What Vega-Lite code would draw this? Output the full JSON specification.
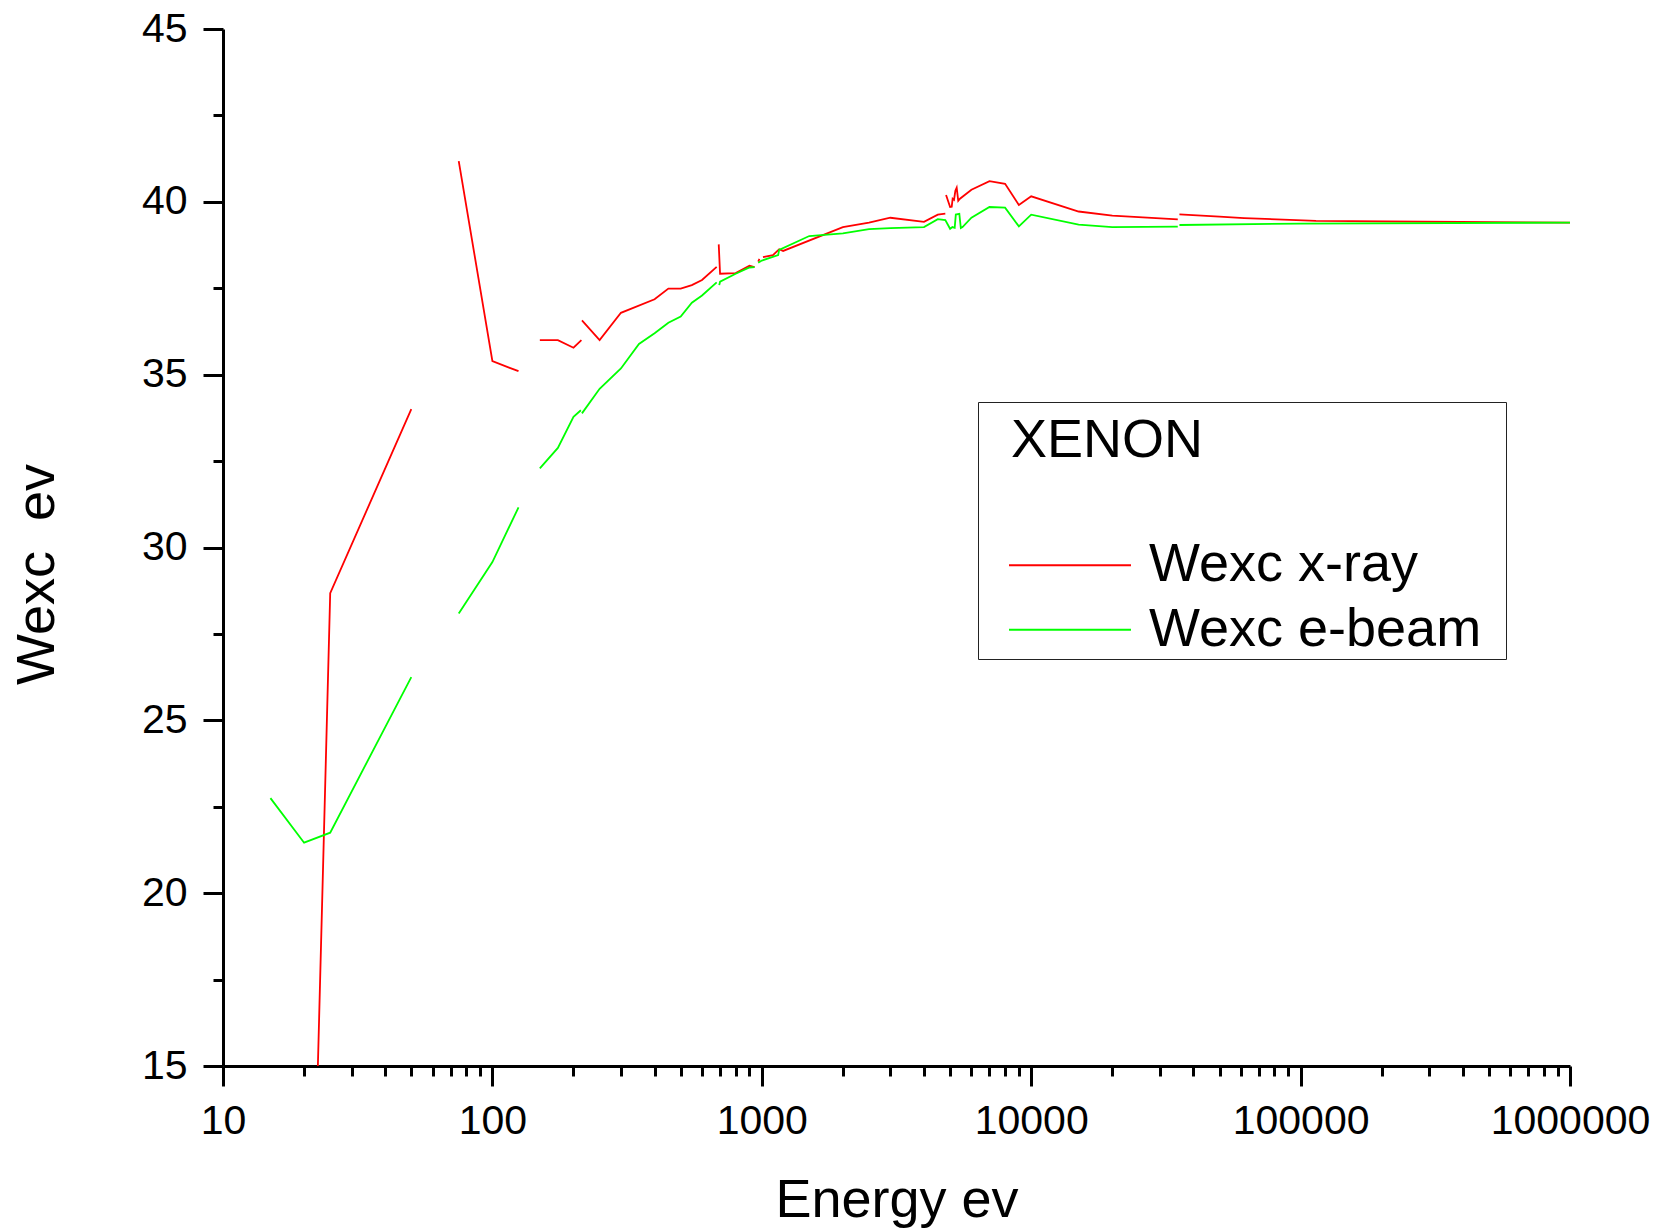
{
  "$schema": "https://vega.github.io/schema/vega-lite/v6.json",
  "width": 1347,
  "height": 1037,
  "autosize": {"type": "none"},
  "padding": {"left": 223, "top": 29, "right": 95, "bottom": 165},
  "background": "white",
  "config": {"view": {"stroke": null}, "font": "Liberation Sans"},
  "datasets": {
    "pts": [
      {"s": "Wexc x-ray", "g": "r1", "e": 22.5, "w": 15.0},
      {"s": "Wexc x-ray", "g": "r1", "e": 25, "w": 28.68},
      {"s": "Wexc x-ray", "g": "r1", "e": 50, "w": 34.0},
      {"s": "Wexc x-ray", "g": "r2", "e": 75, "w": 41.18},
      {"s": "Wexc x-ray", "g": "r2", "e": 100, "w": 35.39},
      {"s": "Wexc x-ray", "g": "r2", "e": 125, "w": 35.1},
      {"s": "Wexc x-ray", "g": "r3", "e": 150, "w": 36.0},
      {"s": "Wexc x-ray", "g": "r3", "e": 175, "w": 36.0},
      {"s": "Wexc x-ray", "g": "r3", "e": 200, "w": 35.78},
      {"s": "Wexc x-ray", "g": "r3", "e": 214, "w": 36.0},
      {"s": "Wexc x-ray", "g": "r4", "e": 215, "w": 36.57},
      {"s": "Wexc x-ray", "g": "r4", "e": 250, "w": 36.0},
      {"s": "Wexc x-ray", "g": "r4", "e": 300, "w": 36.79},
      {"s": "Wexc x-ray", "g": "r4", "e": 400, "w": 37.18},
      {"s": "Wexc x-ray", "g": "r4", "e": 450, "w": 37.49},
      {"s": "Wexc x-ray", "g": "r4", "e": 500, "w": 37.49},
      {"s": "Wexc x-ray", "g": "r4", "e": 550, "w": 37.59},
      {"s": "Wexc x-ray", "g": "r4", "e": 600, "w": 37.74},
      {"s": "Wexc x-ray", "g": "r4", "e": 680, "w": 38.12},
      {"s": "Wexc x-ray", "g": "r5", "e": 692, "w": 38.77},
      {"s": "Wexc x-ray", "g": "r5", "e": 700, "w": 37.92},
      {"s": "Wexc x-ray", "g": "r5", "e": 800, "w": 37.94},
      {"s": "Wexc x-ray", "g": "r5", "e": 900, "w": 38.15},
      {"s": "Wexc x-ray", "g": "r5", "e": 940, "w": 38.11},
      {"s": "Wexc x-ray", "g": "r6", "e": 970, "w": 38.27},
      {"s": "Wexc x-ray", "g": "r6", "e": 980, "w": 38.35},
      {"s": "Wexc x-ray", "g": "r7", "e": 1010, "w": 38.4},
      {"s": "Wexc x-ray", "g": "r7", "e": 1100, "w": 38.46},
      {"s": "Wexc x-ray", "g": "r7", "e": 1160, "w": 38.63},
      {"s": "Wexc x-ray", "g": "r7", "e": 1200, "w": 38.58},
      {"s": "Wexc x-ray", "g": "r7", "e": 2000, "w": 39.27},
      {"s": "Wexc x-ray", "g": "r7", "e": 2500, "w": 39.4},
      {"s": "Wexc x-ray", "g": "r7", "e": 3000, "w": 39.54},
      {"s": "Wexc x-ray", "g": "r7", "e": 4000, "w": 39.42},
      {"s": "Wexc x-ray", "g": "r7", "e": 4500, "w": 39.63},
      {"s": "Wexc x-ray", "g": "r7", "e": 4800, "w": 39.66},
      {"s": "Wexc x-ray", "g": "r8", "e": 4830, "w": 40.2},
      {"s": "Wexc x-ray", "g": "r8", "e": 5000, "w": 39.85},
      {"s": "Wexc x-ray", "g": "r8", "e": 5070, "w": 39.86},
      {"s": "Wexc x-ray", "g": "r8", "e": 5110, "w": 40.09},
      {"s": "Wexc x-ray", "g": "r8", "e": 5170, "w": 40.06},
      {"s": "Wexc x-ray", "g": "r8", "e": 5230, "w": 40.32},
      {"s": "Wexc x-ray", "g": "r8", "e": 5290, "w": 40.41},
      {"s": "Wexc x-ray", "g": "r8", "e": 5360, "w": 40.03},
      {"s": "Wexc x-ray", "g": "r8", "e": 5440, "w": 40.09},
      {"s": "Wexc x-ray", "g": "r8", "e": 6000, "w": 40.35},
      {"s": "Wexc x-ray", "g": "r8", "e": 7000, "w": 40.6},
      {"s": "Wexc x-ray", "g": "r8", "e": 8000, "w": 40.52},
      {"s": "Wexc x-ray", "g": "r8", "e": 9000, "w": 39.91},
      {"s": "Wexc x-ray", "g": "r8", "e": 10000, "w": 40.16},
      {"s": "Wexc x-ray", "g": "r8", "e": 15000, "w": 39.72},
      {"s": "Wexc x-ray", "g": "r8", "e": 20000, "w": 39.6},
      {"s": "Wexc x-ray", "g": "r8", "e": 35000, "w": 39.49},
      {"s": "Wexc x-ray", "g": "r9", "e": 35500, "w": 39.64},
      {"s": "Wexc x-ray", "g": "r9", "e": 50000, "w": 39.57},
      {"s": "Wexc x-ray", "g": "r9", "e": 61700, "w": 39.53},
      {"s": "Wexc x-ray", "g": "r9", "e": 114000, "w": 39.45},
      {"s": "Wexc x-ray", "g": "r9", "e": 391000, "w": 39.42},
      {"s": "Wexc x-ray", "g": "r9", "e": 1000000, "w": 39.4},
      {"s": "Wexc e-beam", "g": "g1", "e": 15, "w": 22.75},
      {"s": "Wexc e-beam", "g": "g1", "e": 20, "w": 21.46},
      {"s": "Wexc e-beam", "g": "g1", "e": 25, "w": 21.75},
      {"s": "Wexc e-beam", "g": "g1", "e": 50, "w": 26.25},
      {"s": "Wexc e-beam", "g": "g2", "e": 75, "w": 28.09},
      {"s": "Wexc e-beam", "g": "g2", "e": 100, "w": 29.58},
      {"s": "Wexc e-beam", "g": "g2", "e": 125, "w": 31.16},
      {"s": "Wexc e-beam", "g": "g3", "e": 150, "w": 32.29},
      {"s": "Wexc e-beam", "g": "g3", "e": 175, "w": 32.88},
      {"s": "Wexc e-beam", "g": "g3", "e": 200, "w": 33.78},
      {"s": "Wexc e-beam", "g": "g3", "e": 213, "w": 33.97},
      {"s": "Wexc e-beam", "g": "g4", "e": 215, "w": 33.88},
      {"s": "Wexc e-beam", "g": "g4", "e": 250, "w": 34.59},
      {"s": "Wexc e-beam", "g": "g4", "e": 300, "w": 35.18},
      {"s": "Wexc e-beam", "g": "g4", "e": 350, "w": 35.89},
      {"s": "Wexc e-beam", "g": "g4", "e": 400, "w": 36.2},
      {"s": "Wexc e-beam", "g": "g4", "e": 450, "w": 36.5},
      {"s": "Wexc e-beam", "g": "g4", "e": 500, "w": 36.68},
      {"s": "Wexc e-beam", "g": "g4", "e": 550, "w": 37.08},
      {"s": "Wexc e-beam", "g": "g4", "e": 600, "w": 37.29},
      {"s": "Wexc e-beam", "g": "g4", "e": 680, "w": 37.67},
      {"s": "Wexc e-beam", "g": "g5", "e": 695, "w": 37.59},
      {"s": "Wexc e-beam", "g": "g5", "e": 700, "w": 37.69},
      {"s": "Wexc e-beam", "g": "g5", "e": 800, "w": 37.92},
      {"s": "Wexc e-beam", "g": "g5", "e": 900, "w": 38.1},
      {"s": "Wexc e-beam", "g": "g5", "e": 940, "w": 38.11},
      {"s": "Wexc e-beam", "g": "g6", "e": 970, "w": 38.24},
      {"s": "Wexc e-beam", "g": "g6", "e": 1000, "w": 38.3},
      {"s": "Wexc e-beam", "g": "g6", "e": 1150, "w": 38.46},
      {"s": "Wexc e-beam", "g": "g6", "e": 1160, "w": 38.61},
      {"s": "Wexc e-beam", "g": "g6", "e": 1500, "w": 39.01},
      {"s": "Wexc e-beam", "g": "g6", "e": 2000, "w": 39.09},
      {"s": "Wexc e-beam", "g": "g6", "e": 2500, "w": 39.21},
      {"s": "Wexc e-beam", "g": "g6", "e": 3000, "w": 39.24},
      {"s": "Wexc e-beam", "g": "g6", "e": 4000, "w": 39.27},
      {"s": "Wexc e-beam", "g": "g6", "e": 4500, "w": 39.5},
      {"s": "Wexc e-beam", "g": "g6", "e": 4800, "w": 39.47},
      {"s": "Wexc e-beam", "g": "g6", "e": 5000, "w": 39.22},
      {"s": "Wexc e-beam", "g": "g6", "e": 5100, "w": 39.27},
      {"s": "Wexc e-beam", "g": "g6", "e": 5200, "w": 39.25},
      {"s": "Wexc e-beam", "g": "g6", "e": 5250, "w": 39.63},
      {"s": "Wexc e-beam", "g": "g6", "e": 5410, "w": 39.65},
      {"s": "Wexc e-beam", "g": "g6", "e": 5480, "w": 39.24},
      {"s": "Wexc e-beam", "g": "g6", "e": 5560, "w": 39.27},
      {"s": "Wexc e-beam", "g": "g6", "e": 6000, "w": 39.54},
      {"s": "Wexc e-beam", "g": "g6", "e": 7000, "w": 39.85},
      {"s": "Wexc e-beam", "g": "g6", "e": 8000, "w": 39.83},
      {"s": "Wexc e-beam", "g": "g6", "e": 9000, "w": 39.29},
      {"s": "Wexc e-beam", "g": "g6", "e": 10000, "w": 39.63},
      {"s": "Wexc e-beam", "g": "g6", "e": 15000, "w": 39.34},
      {"s": "Wexc e-beam", "g": "g6", "e": 20000, "w": 39.27},
      {"s": "Wexc e-beam", "g": "g6", "e": 35000, "w": 39.28},
      {"s": "Wexc e-beam", "g": "g7", "e": 35500, "w": 39.33},
      {"s": "Wexc e-beam", "g": "g7", "e": 100000, "w": 39.37},
      {"s": "Wexc e-beam", "g": "g7", "e": 1000000, "w": 39.4}
    ]
  },
  "data": {"name": "pts"},
  "resolve": {"axis": {"x": "independent", "y": "independent"}},
  "layer": [
    {
      "mark": {"type": "line", "strokeWidth": 1.8, "clip": true},
      "encoding": {
        "x": {
          "field": "e", "type": "quantitative",
          "scale": {"type": "log", "domain": [10, 1000000], "nice": false},
          "axis": {
            "orient": "bottom",
            "values": [10, 100, 1000, 10000, 100000, 1000000],
            "format": "d", "grid": false,
            "tickSize": 20, "tickWidth": 3, "tickColor": "black",
            "domainColor": "black", "domainWidth": 3,
            "labelFontSize": 41, "labelColor": "black", "labelPadding": 15,
            "labelFlush": false, "labelOverlap": false,
            "title": "Energy ev", "titleFontSize": 54, "titleFontWeight": "normal",
            "titleColor": "black", "titleY": 150, "titleBaseline": "alphabetic"
          }
        },
        "y": {
          "field": "w", "type": "quantitative",
          "scale": {"domain": [15, 45], "nice": false, "zero": false},
          "axis": {
            "orient": "left",
            "values": [15, 20, 25, 30, 35, 40, 45],
            "grid": false,
            "tickSize": 20, "tickWidth": 3, "tickColor": "black",
            "domainColor": "black", "domainWidth": 3,
            "labelFontSize": 41, "labelColor": "black", "labelPadding": 16,
            "labelOverlap": false,
            "title": "Wexc\u00a0 ev", "titleFontSize": 54, "titleFontWeight": "normal",
            "titleColor": "black", "titleX": -170, "titleY": 545,
            "titleBaseline": "alphabetic", "titleAngle": 270, "titleAlign": "center"
          }
        },
        "color": {
          "field": "s", "type": "nominal",
          "scale": {"domain": ["Wexc x-ray", "Wexc e-beam"], "range": ["#ff0000", "#00ff00"]},
          "legend": {
            "orient": "none", "legendX": 755, "legendY": 373,
            "title": "XENON", "titleFontSize": 54, "titleFontWeight": "normal",
            "titleColor": "black", "titleLimit": 1000,
            "titleBaseline": "line-top", "titleLineHeight": 75, "titlePadding": 80.3,
            "strokeColor": "#222222", "fillColor": "white",
            "padding": 2,
            "labelFontSize": 54, "labelColor": "black", "labelLimit": 1000,
            "symbolType": "M-4,0H4M28.2,0", "symbolSize": 930, "symbolOffset": 63,
            "labelOffset": 52, "symbolStrokeWidth": 2, "rowPadding": 10.4,
            "encode": {"title": {"update": {"dx": {"value": 31}}}}
          }
        },
        "detail": {"field": "g", "type": "nominal"}
      }
    },
    {
      "mark": {"type": "line", "opacity": 0},
      "encoding": {
        "x": {
          "field": "e", "type": "quantitative",
          "scale": {"type": "log", "domain": [10, 1000000], "nice": false},
          "axis": {
            "orient": "bottom",
            "values": [20, 30, 40, 50, 60, 70, 80, 90, 200, 300, 400, 500, 600, 700, 800, 900, 2000, 3000, 4000, 5000, 6000, 7000, 8000, 9000, 20000, 30000, 40000, 50000, 60000, 70000, 80000, 90000, 200000, 300000, 400000, 500000, 600000, 700000, 800000, 900000],
            "labels": false, "domain": false, "grid": false,
            "tickSize": 10, "tickWidth": 3, "tickColor": "black", "title": null
          }
        },
        "y": {
          "field": "w", "type": "quantitative",
          "scale": {"domain": [15, 45], "nice": false, "zero": false},
          "axis": {
            "orient": "left",
            "values": [17.5, 22.5, 27.5, 32.5, 37.5, 42.5],
            "labels": false, "domain": false, "grid": false,
            "tickSize": 10, "tickWidth": 3, "tickColor": "black", "title": null
          }
        },
        "detail": {"field": "g", "type": "nominal"}
      }
    }
  ]
}
